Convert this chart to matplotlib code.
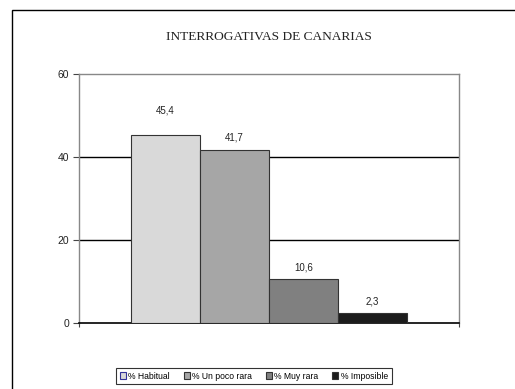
import numpy as np
import matplotlib
matplotlib.use('Agg')
import matplotlib.pyplot as plt
from matplotlib.patches import Rectangle

# Datos de la serie
categorias = ['% Habitual', '% Un poco rara', '% Muy rara', '% Imposible']
valores = [45.4, 41.7, 10.6, 2.3]
colores = ['#d9d9d9', '#a6a6a6', '#808080', '#1c1c1c']
y_ticks = [0, 20, 40, 60]

plt.rcParams['font.family'] = ['Liberation Sans', 'DejaVu Sans']

fig = plt.figure(figsize=(5.15, 3.89), dpi=100)
ax = fig.add_axes([0.1534, 0.1697, 0.7379, 0.6401])

# marco exterior del grafico
fig.patches.append(Rectangle((12 / 515, -0.2), 1.2, 0.2 + 1 - 10 / 389,
                             transform=fig.transFigure, fill=False,
                             edgecolor='black', linewidth=1.0))

x = np.arange(len(valores)) - 1.5
barras = ax.bar(x, valores, width=1.0, color=colores, edgecolor='#333333',
                linewidth=0.8, zorder=3)
for b, c in zip(barras, categorias):
    b.set_label(c)

ax.set_xlim(-2.75, 2.75)
ax.set_ylim(0, 60)
ax.set_yticks(y_ticks)
ax.set_yticklabels([str(v) for v in y_ticks], fontsize=7.5, color='#222222')
ax.set_xticks([-2.75, 2.75])
ax.set_xticklabels(['', ''])
ax.tick_params(axis='x', length=3, width=0.8, color='#444444', direction='out')
ax.tick_params(axis='y', length=4, width=0.8, color='#444444', pad=3)

# lineas de division
for v in y_ticks[1:-1]:
    ax.axhline(v, color='black', linewidth=1.0, zorder=1)

for s in ['left', 'right', 'top']:
    ax.spines[s].set_color('#888888')
    ax.spines[s].set_linewidth(1.0)
ax.spines['bottom'].set_color('black')
ax.spines['bottom'].set_linewidth(1.2)

# etiquetas de valor
offsets = [14, 5, 5, 5]
for b, v, off in zip(barras, valores, offsets):
    ax.annotate(f'{v:.1f}'.replace('.', ','), (b.get_x() + b.get_width() / 2, v),
                xytext=(0, off), textcoords='offset points', ha='center',
                va='bottom', fontsize=7, color='#222222')

fig.text(0.522, 0.905, 'INTERROGATIVAS DE CANARIAS', ha='center', va='center',
         fontsize=9.6, family='Liberation Serif', color='#222222')

leg = fig.legend(handles=list(barras), loc='center', bbox_to_anchor=(0.493, 0.0334),
                 ncol=4, fontsize=6.2, frameon=True, fancybox=False,
                 handlelength=0.7, handleheight=0.7, handletextpad=0.3,
                 columnspacing=1.6, borderpad=0.45, edgecolor='black')
leg.get_frame().set_linewidth(0.8)
leg.legend_handles[0].set_edgecolor('#333399')

fig.savefig('out.png', dpi=100)
